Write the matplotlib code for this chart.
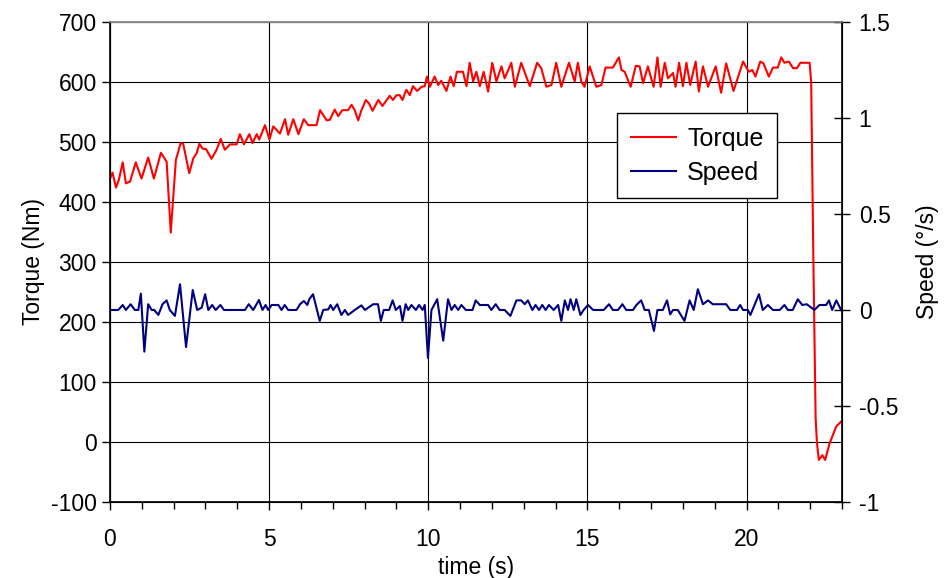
import matplotlib.pyplot as plt
from matplotlib.ticker import MultipleLocator

plt.rcParams['font.family'] = ['Liberation Sans', 'DejaVu Sans']
plt.rcParams['axes.unicode_minus'] = False

# torque (Nm)
torque_t = [0, 0.08, 0.19, 0.28, 0.40, 0.50, 0.63, 0.81, 0.99, 1.20, 1.38, 1.60, 1.78, 1.91,
            2.07, 2.22, 2.30, 2.49, 2.62, 2.72, 2.81, 2.91, 3.02, 3.19, 3.35, 3.48, 3.61, 3.77,
            3.98, 4.08, 4.21, 4.38, 4.48, 4.61, 4.69, 4.87, 5.01, 5.13, 5.34, 5.50, 5.60, 5.76,
            5.92, 6.09, 6.23, 6.49, 6.60, 6.81, 6.91, 7.06, 7.17, 7.30, 7.48, 7.59, 7.69, 7.80,
            7.90, 8.04, 8.14, 8.25, 8.43, 8.56, 8.79, 8.89, 9.00, 9.10, 9.19, 9.31, 9.42, 9.52,
            9.65, 9.79, 9.89, 9.96, 10.05, 10.20, 10.31, 10.41, 10.57, 10.70, 10.80, 10.90, 11.09,
            11.20, 11.30, 11.41, 11.51, 11.62, 11.74, 11.88, 12.01, 12.14, 12.30, 12.40, 12.61,
            12.72, 12.92, 13.19, 13.42, 13.55, 13.71, 13.87, 14.02, 14.18, 14.42, 14.60, 14.70,
            14.81, 14.91, 15.07, 15.28, 15.44, 15.57, 15.80, 15.99, 16.07, 16.17, 16.36, 16.52,
            16.64, 16.75, 16.90, 17.08, 17.20, 17.30, 17.43, 17.53, 17.69, 17.77, 17.88, 18.00,
            18.11, 18.23, 18.40, 18.50, 18.63, 18.79, 19.03, 19.20, 19.36, 19.59, 19.89, 20.07,
            20.18, 20.28, 20.43, 20.53, 20.70, 20.83, 20.98, 21.09, 21.19, 21.33, 21.46, 21.58,
            21.69, 21.98, 22.03, 22.10, 22.17, 22.21, 22.27, 22.38, 22.47, 22.61, 22.82, 22.97]
torque = [439, 449, 424, 437, 466, 431, 434, 466, 439, 474, 439, 482, 467, 349,
          470, 498, 497, 448, 473, 481, 497, 489, 488, 472, 487, 505, 487, 496,
          496, 513, 496, 513, 498, 513, 504, 528, 504, 526, 514, 538, 512, 538,
          513, 538, 528, 528, 553, 536, 537, 554, 543, 553, 553, 562, 553, 536,
          553, 570, 564, 552, 570, 560, 577, 570, 578, 578, 570, 587, 578, 593,
          585, 592, 593, 609, 592, 609, 595, 602, 585, 609, 593, 617, 617,
          593, 632, 601, 617, 593, 617, 584, 632, 601, 626, 606, 632,
          592, 632, 593, 632, 623, 592, 595, 632, 592, 632, 601, 632,
          600, 592, 626, 592, 595, 624, 624, 641, 620, 617, 592, 627,
          626, 598, 626, 592, 641, 592, 632, 606, 615, 592, 632, 593,
          632, 595, 634, 584, 626, 592, 626, 582, 631, 585, 634, 617,
          620, 609, 634, 631, 609, 624, 624, 641, 632, 634, 623, 623,
          632, 632, 600, 300, 40, 0, -30, -22, -30, -2, 26, 34]

# speed (deg/s)
speed_t = [0, 0.26, 0.40, 0.50, 0.65, 0.78, 0.89, 0.97, 1.08, 1.20, 1.31, 1.39, 1.52, 1.65,
           1.78, 1.88, 2.04, 2.20, 2.39, 2.60, 2.74, 2.88, 2.99, 3.09, 3.21, 3.32, 3.47, 3.58,
           4.24, 4.36, 4.50, 4.68, 4.79, 4.89, 4.97, 5.08, 5.29, 5.39, 5.49, 5.60, 5.86, 5.97,
           6.09, 6.20, 6.26, 6.38, 6.59, 6.70, 6.86, 6.93, 7.01, 7.14, 7.27, 7.38, 7.48, 7.69,
           7.90, 8.01, 8.27, 8.42, 8.51, 8.60, 8.77, 8.88, 8.98, 9.11, 9.19, 9.29, 9.37, 9.47,
           9.61, 9.71, 9.82, 9.89, 9.99, 10.10, 10.28, 10.47, 10.62, 10.73, 10.83, 10.94, 11.04,
           11.18, 11.39, 11.49, 11.62, 11.88, 11.98, 12.12, 12.24, 12.40, 12.58, 12.77, 12.92,
           13.03, 13.13, 13.27, 13.37, 13.48, 13.58, 13.69, 13.79, 13.94, 14.08, 14.18, 14.29,
           14.39, 14.47, 14.57, 14.65, 14.78, 14.88, 15.02, 15.18, 15.51, 15.68, 15.80, 15.96,
           16.10, 16.22, 16.43, 16.54, 16.69, 16.80, 16.93, 17.09, 17.20, 17.37, 17.50, 17.60,
           17.69, 17.84, 18.05, 18.21, 18.34, 18.47, 18.63, 18.79, 18.94, 19.36, 19.49, 19.70,
           19.80, 19.89, 20.04, 20.12, 20.25, 20.39, 20.51, 20.67, 20.83, 21.04, 21.19, 21.30,
           21.45, 21.61, 21.75, 21.89, 22.13, 22.29, 22.50, 22.59, 22.69, 22.82, 22.97]
speed = [0, 0, 0.026, 0, 0.03, 0, 0, 0.085, -0.217, 0.03, 0, 0, -0.026, 0.03,
         0.05, 0, -0.031, 0.134, -0.193, 0.104, 0, 0.012, 0.082, 0, 0.026, 0, 0.026, 0,
         0, 0.03, 0, 0.052, 0, 0.026, 0, 0.026, 0.026, 0, 0.026, 0, 0, 0.03,
         0.047, 0.026, 0.056, 0.082, -0.057, 0, 0.003, 0.026, 0, 0.03, -0.026, 0, -0.026, 0,
         0.024, 0, 0.03, 0.03, -0.057, 0, 0, 0.05, 0, 0.021, -0.057, 0.03, 0, 0.026,
         0, 0.026, 0, 0.026, -0.25, 0, 0.056, -0.16, 0.056, 0, 0.026, 0, 0.026,
         0, 0, 0.05, 0.026, 0.026, 0, 0.03, 0, 0, -0.031, 0.05, 0.05,
         0.03, 0.05, 0, 0.026, 0, 0.026, 0, 0.026, 0, 0.026, -0.057, 0.05,
         0, 0.056, 0, 0.056, -0.026, 0, 0.026, 0, 0, 0.03, 0, 0,
         0.03, 0, 0, 0.026, 0.05, 0, 0, -0.109, 0, 0, 0.05, -0.023,
         0, 0, -0.057, 0.05, 0, 0.108, 0.03, 0.05, 0.03, 0.03, 0, 0,
         0.026, 0, 0, -0.026, 0.026, 0.082, 0, 0.026, 0, 0, 0.026, 0,
         0, 0.056, 0.026, 0.03, 0, 0.026, 0.026, 0.05, 0, 0.05, 0]

fig = plt.figure(figsize=(9.44, 5.78), dpi=100)
ax = fig.add_axes([0.1165, 0.1315, 0.7755, 0.8305])
ax2 = ax.twinx()

l1, = ax.plot(torque_t, torque, color='#ff0000', lw=1.5, solid_joinstyle='round')
l2, = ax2.plot(speed_t, speed, color='#000080', lw=1.5, solid_joinstyle='round')

ax.set_xlim(0, 23)
ax.set_ylim(-100, 700)
ax2.set_ylim(-1, 1.5)
ax.xaxis.set_major_locator(MultipleLocator(5))
ax.xaxis.set_minor_locator(MultipleLocator(1))
ax.yaxis.set_major_locator(MultipleLocator(100))
ax2.set_yticks([-1, -0.5, 0, 0.5, 1, 1.5])
ax2.set_yticklabels(['-1', '-0.5', '0', '0.5', '1', '1.5'])

ax.grid(True, which='major', color='black', lw=0.8)
ax.tick_params(axis='both', which='major', labelsize=16.5, direction='out', length=6, width=1)
ax.tick_params(axis='x', which='major', pad=13)
ax.tick_params(axis='x', which='minor', direction='out', length=5, width=1)
ax2.tick_params(axis='y', labelsize=16.5, direction='inout', length=12, width=1, pad=6)

for s in ['left', 'bottom', 'right']:
    ax.spines[s].set_color('black')
    ax2.spines[s].set_color('black')
ax.spines['top'].set_color('#808080')
ax2.spines['top'].set_color('#808080')
for sp in ax2.spines.values():
    sp.set_linewidth(1.2)

ax.set_xlabel('time (s)', fontsize=16.5, labelpad=3)
ax.set_ylabel('Torque (Nm)', fontsize=16.5, labelpad=4)
ax2.set_ylabel('Speed (°/s)', fontsize=16.5, labelpad=13)

leg = ax2.legend([l1, l2], ['Torque', 'Speed'], loc='upper left',
                 bbox_to_anchor=(0.6926, 0.8104), borderaxespad=0, fontsize=18,
                 frameon=True, fancybox=False, edgecolor='black', framealpha=1,
                 handlelength=1.8, handletextpad=0.45, borderpad=0.55, labelspacing=0.4)
leg.get_frame().set_linewidth(1)

plt.savefig('out.png', dpi=100)
